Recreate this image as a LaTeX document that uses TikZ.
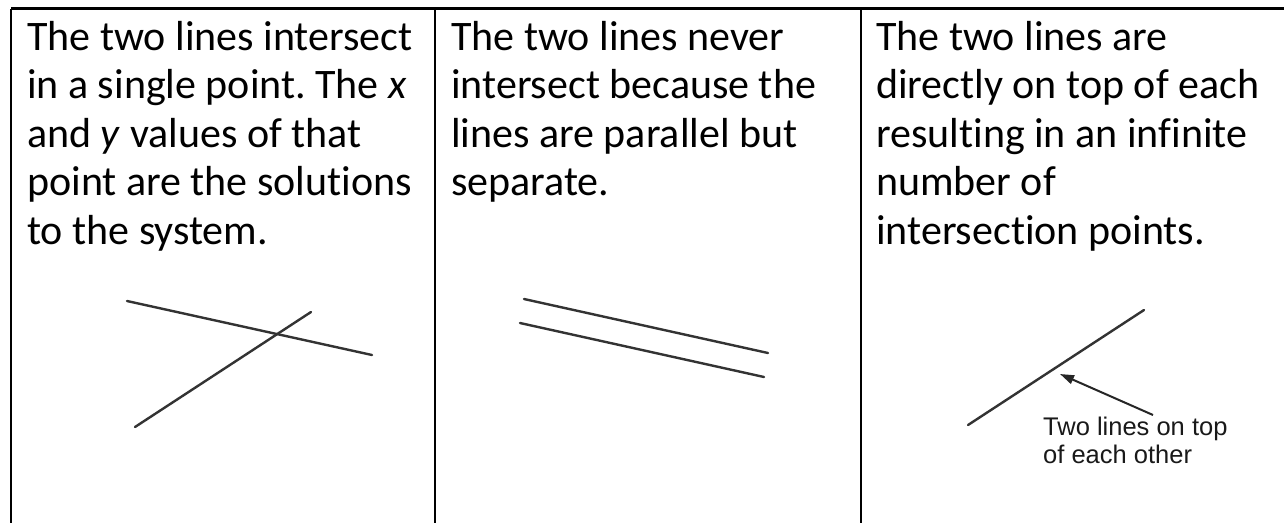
\documentclass[tikz,border=0pt]{standalone}
\usepackage{fontspec}
\setmainfont[Ligatures=NoCommon]{Carlito}
\newfontfamily\notefont{Liberation Sans}
\usetikzlibrary{arrows.meta}
\frenchspacing

\begin{document}
\begin{tikzpicture}[x=1pt,y=-1pt,
  rule/.style={line width=2.6pt, black},
  % multi-line nodes: the base anchor sits on the last line's baseline
  celltext/.style={anchor=base west, inner sep=0pt, align=left,
    font=\fontsize{42}{48.5}\selectfont},
  graphline/.style={line width=2.4pt, black!80, line cap=round},
  note/.style={anchor=base west, inner sep=0pt, align=left, text=black!90,
    font=\notefont\fontsize{25.5}{28}\selectfont},
  pointer/.style={line width=2pt, black!85,
    -{Triangle[length=14pt,width=9pt]}}]
\useasboundingbox (0,0) rectangle (1284,523);
\fill[white] (0,0) rectangle (1284,523);

% table rules (open at the bottom and on the right)
\coordinate (tl) at (11,8.5);
\coordinate (tr) at (1284,8.5);
\coordinate (m1) at (435,8.5);
\coordinate (m2) at (861,8.5);
\coordinate (bl) at (11,523);
\coordinate (b1) at (435,523);
\coordinate (b2) at (861,523);
\draw[rule] (tl) -- (tr);
\draw[rule] (tl) -- (bl);
\draw[rule] (m1) -- (b1);
\draw[rule] (m2) -- (b2);

% cell texts (positions give the baseline of each last line)
\node[celltext] (t1) at (27,244) {The two lines intersect\\in a single point. The \textit{x}\\and \textit{y} values of that\\point are the solutions\\to the system.};
\node[celltext] (t2) at (451,195.5) {The two lines never\\intersect because the\\lines are parallel but\\separate.};
\node[celltext] (t3) at (876,244) {The two lines are\\directly on top of each\\resulting in an infinite\\number of\\intersection points.};

% intersecting lines
\coordinate (pA) at (127,301);
\coordinate (qA) at (372,355);
\coordinate (pB) at (135,427);
\coordinate (qB) at (311,312);
\draw[graphline] (pA) -- (qA);
\draw[graphline] (pB) -- (qB);

% parallel lines
\coordinate (pC) at (524,299);
\coordinate (qC) at (768,353);
\coordinate (pD) at (520,323);
\coordinate (qD) at (764,377);
\draw[graphline] (pC) -- (qC);
\draw[graphline] (pD) -- (qD);

% coincident lines
\coordinate (pE) at (968,425);
\coordinate (qE) at (1144,310);
\draw[graphline] (pE) -- (qE);
\coordinate (tip) at (1060,374);
\coordinate (tail) at (1153,415);
\draw[pointer] (tail) -- (tip);
\node[note] (lbl) at (1043,463) {Two lines on top\\of each other};
\end{tikzpicture}
\end{document}
